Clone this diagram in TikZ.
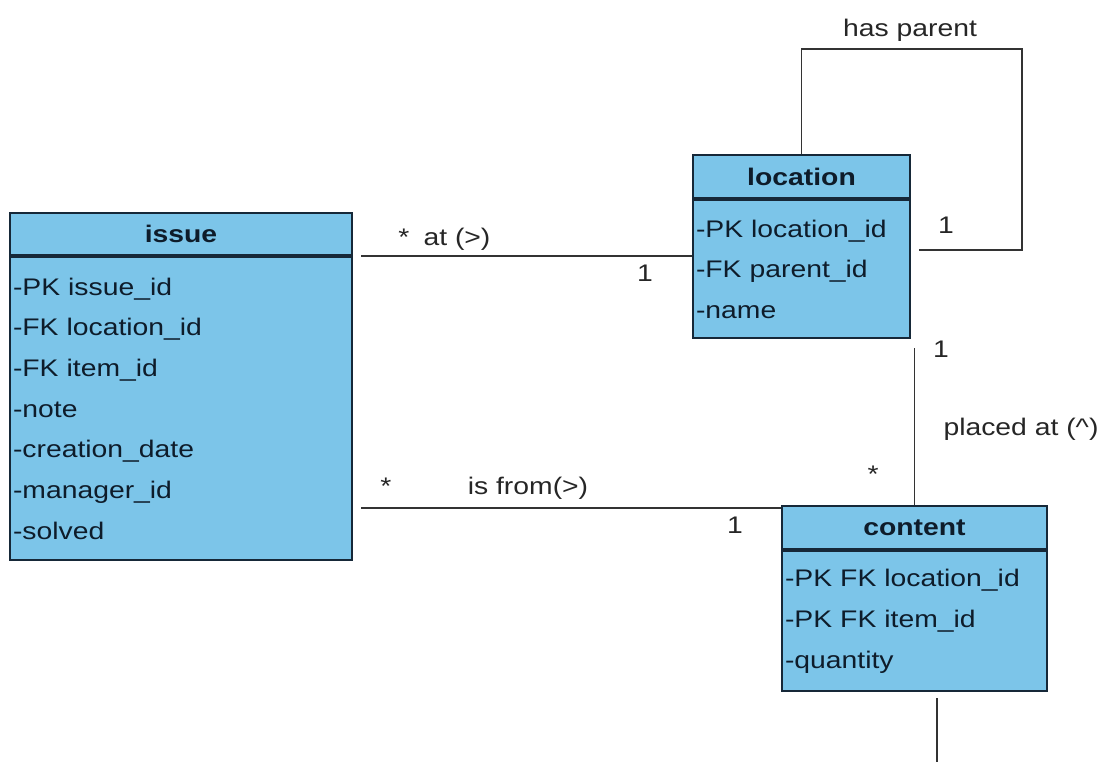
\documentclass[tikz,border=0pt]{standalone}
\usepackage{fontspec}
\setmainfont{Liberation Sans}[FakeStretch=1.18]
\usetikzlibrary{positioning}

\definecolor{classfill}{RGB}{124,197,233}
\definecolor{classline}{RGB}{22,40,56}
\definecolor{ink}{RGB}{14,28,42}

\tikzset{
    classhead/.style={draw=classline, fill=classfill, line width=2.2pt, text=ink,
        font=\fontsize{24}{28}\selectfont\bfseries, inner sep=0pt},
    classbody/.style={draw=classline, fill=classfill, line width=2.2pt, text=ink,
        font=\fontsize{24}{40.7}\selectfont, align=left, inner xsep=3pt, inner ysep=0pt},
    rel/.style={line width=1.8pt, draw=black!80},
    tag/.style={font=\fontsize{24}{28}\selectfont, text=black!85, inner sep=0pt,
        text height=17pt, text depth=0pt}
}

\begin{document}
\begin{tikzpicture}[x=1pt, y=-1pt]
    \useasboundingbox (0,0) rectangle (1107,762);

    % classes
    \node[classhead, minimum width=342, minimum height=42] (ihead) at (181,234) {issue};
    \node[classbody, below=0pt of ihead, text width=336, minimum height=303] (ibody)
        {-PK issue\_id\\-FK location\_id\\-FK item\_id\\-note\\-creation\_date\\-manager\_id\\-solved};

    \node[classhead, minimum width=217, minimum height=43] (lhead) at (801.5,176.5) {location};
    \node[classbody, below=0pt of lhead, text width=211, minimum height=138] (lbody)
        {-PK location\_id\\-FK parent\_id\\-name};

    \node[classhead, minimum width=265, minimum height=43] (chead) at (914.5,527.5) {content};
    \node[classbody, below=0pt of chead, text width=259, minimum height=140] (cbody)
        {-PK FK location\_id\\-PK FK item\_id\\-quantity};

    % helper points
    \coordinate (loopturn) at (1022,49);
    \coordinate (fromstart) at ([xshift=8pt]ibody.east);
    \coordinate (fromend) at ([yshift=-3pt]chead.north west);
    \coordinate (tail) at ([yshift=-6pt]cbody.south);
    \coordinate (offpage) at (937,762);

    % relations
    \draw[rel] ([xshift=8pt]ihead.south east) -- (ihead.south east -| lbody.west);
    \draw[rel] (fromstart |- fromend) -- (fromend);
    \draw[rel] (lhead.north) |- (loopturn) |- ([xshift=8pt, yshift=19pt]lbody.east);
    \draw[rel] ([yshift=-9pt]lbody.south -| chead.north) -- (chead.north);
    \draw[rel] (tail -| offpage) -- (offpage);

    % labels
    \node[tag] (atstar) at (404,237) {*};
    \node[tag] (atname) at (457,237) {at (>)};
    \node[tag] (atone) at (645,273) {1};
    \node[tag] (fromstar) at (386,486) {*};
    \node[tag] (fromname) at (528,486) {is from(>)};
    \node[tag] (fromone) at (735,525) {1};
    \node[tag] (parentname) at (910,28) {has parent};
    \node[tag] (parentone) at (946,225) {1};
    \node[tag] (placedone) at (941,349) {1};
    \node[tag] (placedname) at (1021,427) {placed at (\^{})};
    \node[tag] (placedstar) at (873,474) {*};
\end{tikzpicture}
\end{document}
